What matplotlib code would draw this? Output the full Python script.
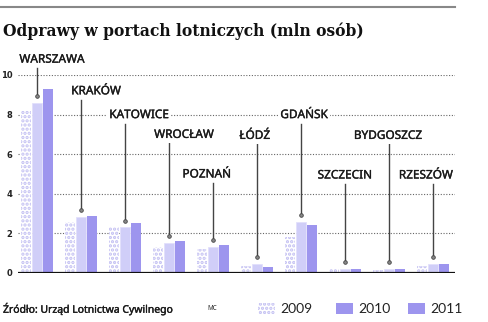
import numpy as np
import matplotlib
matplotlib.use("Agg")
import matplotlib.pyplot as plt
import matplotlib.patheffects as pe
from matplotlib.patches import Rectangle

# data (mln passengers)
airports = ["WARSZAWA", "KRAKÓW", "KATOWICE", "WROCŁAW", "POZNAŃ",
            "ŁÓDŹ", "GDAŃSK", "SZCZECIN", "BYDGOSZCZ", "RZESZÓW"]
v2009 = [8.2, 2.6, 2.3, 1.3, 1.2, 0.35, 1.8, 0.2, 0.15, 0.35]
v2010 = [8.6, 2.85, 2.3, 1.5, 1.3, 0.45, 2.6, 0.2, 0.2, 0.45]
v2011 = [9.3, 2.9, 2.55, 1.6, 1.4, 0.3, 2.4, 0.2, 0.2, 0.45]
years = ["2009", "2010", "2011"]
yticks = [0, 2, 4, 6, 8, 10]

# label placement (level in data units, x shift in groups)
label_y = [10.8, 9.2, 8.0, 7.0, 5.0, 6.95, 8.0, 4.95, 6.95, 4.95]
label_dx = [0.34, 0.34, 0.32, 0.34, -0.14, -0.05, 0.07, 0.0, -0.02, -0.16]

c2009 = "#c2bff2"
c2010 = "#d0cef8"
c2011 = "#9d95ee"
plt.rcParams["hatch.color"] = c2009
plt.rcParams["hatch.linewidth"] = 1.6

fig = plt.figure(figsize=(4.88, 3.22), dpi=100)
W, H = 488, 322
ax = fig.add_axes([18 / W, 1 - 273 / H, (455 - 18) / W, (273 - 75) / H])

x = np.arange(len(airports))
bw = 0.245
ax.bar(x - 0.25, v2009, bw, color="white", hatch="....", edgecolor=c2009,
       linewidth=0, zorder=2)
ax.bar(x, v2010, bw, color=c2010, edgecolor="#e2e0fb", linewidth=0.6, zorder=2)
ax.bar(x + 0.25, v2011, bw, color=c2011, linewidth=0, zorder=2)

ax.set_xlim((18 - 37) / 44, (455 - 37) / 44)
ax.set_ylim(0, 10)
for s in ax.spines.values():
    s.set_visible(False)
ax.set_xticks([])
ax.set_yticks(yticks)
ax.set_yticklabels([str(t) for t in yticks], fontsize=6, fontweight="bold",
                   color="#222222")
ax.tick_params(axis="y", length=0, pad=4)
for t in yticks[1:]:
    ax.axhline(t, color="#666666", lw=0.8, ls=(0, (1, 1.5)), zorder=1)
ax.axhline(0, color="#111111", lw=1.6, zorder=3)

thick = [pe.withStroke(linewidth=0.25, foreground="#1a1a1a")]

# labels with leader lines
for i, name in enumerate(airports):
    ax.text(i + label_dx[i], label_y[i], name, ha="center", va="center",
            fontsize=8.5, family="Noto Sans", path_effects=thick,
            color="#1a1a1a", clip_on=False, zorder=5,
            bbox=dict(boxstyle="square,pad=0.15", fc="white", ec="none"))
    dot = v2010[i] + 0.35
    ax.plot([i, i], [label_y[i] - 0.45, dot], color="#444444", lw=1.0,
            zorder=4, clip_on=False)
    ax.plot(i, dot, "o", ms=2.6, mfc="#888888", mec="#444444", mew=0.6,
            zorder=4, clip_on=False)

# header rule and title
fig.add_artist(plt.Line2D([0, 455 / W], [1 - 7 / H, 1 - 7 / H],
                          color="#888888", lw=1.5))
fig.text(3 / W, 1 - 31 / H, "Odprawy w portach lotniczych (mln osób)",
         fontsize=11.2, fontweight="bold", family="DejaVu Serif",
         va="center", ha="left", color="#111111")

# footer
fig.text(3 / W, 1 - 309 / H, "Źródło: Urząd Lotnictwa Cywilnego",
         fontsize=7.5, family="Noto Sans", path_effects=thick,
         va="center", color="#1a1a1a")
fig.text(207 / W, 1 - 309 / H, "MC", fontsize=4.5, family="Noto Sans",
         va="center", color="#222222")

sw = [(258, dict(fc="white", hatch="....", ec=c2009, lw=0)),
      (336, dict(fc=c2011, ec="none")),
      (408, dict(fc=c2011, ec="none"))]
for (px, style), yr in zip(sw, years):
    fig.add_artist(Rectangle((px / W, 1 - 314 / H), 17 / W, 11 / H,
                             transform=fig.transFigure, **style))
    fig.text((px + 22) / W, 1 - 309 / H, yr, fontsize=10, family="Lato",
             va="center", color="#222222")

fig.savefig("out.png", dpi=100)
